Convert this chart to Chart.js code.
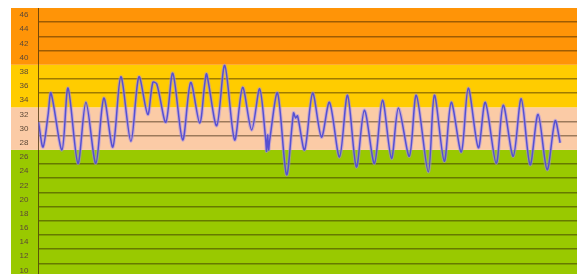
<!DOCTYPE html>
<html>
<head>
<meta charset="utf-8">
<script src="https://cdn.jsdelivr.net/npm/chart.js@4"></script>
<style>
html, body { margin: 0; padding: 0; background: #fff; }
#wrap { position: relative; width: 577px; height: 274px; }
</style>
</head>
<body>
<div id="wrap"><canvas id="temp"></canvas></div>
<script>
// time in days from the start of the month, temperature in degrees
var days = [0, 0.26, 0.55, 0.72, 1.35, 1.70, 2.27, 2.73, 3.30, 3.76, 4.28, 4.74, 5.32, 5.78,
    6.29, 6.58, 6.81, 7.33, 7.73, 8.30, 8.76, 9.28, 9.57, 9.68, 10.26, 10.72, 11.29, 11.75,
    12.27, 12.73, 13.07, 13.13, 13.19, 13.25, 13.30, 13.76, 14.28, 14.68, 14.80, 14.91,
    15.32, 15.78, 16.29, 16.75, 17.33, 17.79, 18.30, 18.76, 19.34, 19.80, 20.32, 20.72,
    21.35, 21.75, 22.44, 22.79, 23.36, 23.76, 24.34, 24.74, 25.32, 25.72, 26.35, 26.75,
    27.33, 27.79, 28.30, 28.76, 29.28, 29.74, 30.03]
var temps = [30.9, 27.4, 31.9, 35.0, 27.0, 35.7, 25.1, 33.7, 25.1, 34.3, 27.4, 37.3, 28.2, 37.3,
    32.0, 36.5, 36.3, 30.9, 37.8, 28.4, 36.5, 30.8, 36.3, 37.7, 30.4, 38.9, 28.4, 35.8,
    29.8, 35.6, 28.7, 26.8, 29.1, 27.0, 28.2, 35.0, 23.5, 32.2, 31.5, 31.8,
    27.0, 35.0, 28.8, 33.7, 26.0, 34.7, 24.6, 32.6, 25.1, 34.0, 25.8, 32.9,
    26.1, 34.7, 23.9, 34.7, 25.4, 33.7, 26.7, 35.7, 27.3, 33.7, 25.1, 33.3,
    26.1, 34.2, 24.9, 32.0, 24.2, 31.1, 28.0]
var yTicks = [10, 12, 14, 16, 18, 20, 22, 24, 26, 28, 30, 32, 34, 36, 38, 40, 42, 44, 46]
var bandLimits = [9.5, 27, 33, 39, 47]
var bandColors = ['#99c900', '#fbcba6', '#ffcc00', '#ff9407']

var points = []
for (var i = 0; i < days.length; i++) {
    points.push({ x: days[i], y: temps[i] })
}

var bands = {
    id: 'bands',
    beforeDraw: function (chart) {
        var c = chart.ctx, y = chart.scales.y, area = chart.chartArea
        c.save()
        for (var i = 0; i < bandColors.length; i++) {
            var top = Math.max(y.getPixelForValue(bandLimits[i + 1]), area.top)
            var bot = Math.min(y.getPixelForValue(bandLimits[i]), area.bottom)
            c.fillStyle = bandColors[i]
            c.fillRect(y.left, top, chart.width - y.left, bot - top)
        }
        c.restore()
    }
}

var ctx = document.getElementById('temp').getContext('2d')
var chart = new Chart(ctx, {
    type: 'line',
    data: {
        datasets: [{
            data: points,
            borderColor: '#5550d2',
            borderWidth: 1.5,
            pointRadius: 0,
            tension: 0.3,
            fill: false
        }, {
            // soft halo under the line
            data: points,
            borderColor: 'rgba(160,140,235,0.55)',
            borderWidth: 3.5,
            pointRadius: 0,
            tension: 0.3,
            fill: false
        }]
    },
    options: {
        responsive: true,
        maintainAspectRatio: false,
        animation: false,
        layout: { padding: { left: 11, top: 8, right: 0, bottom: 0 } },
        plugins: { legend: { display: false }, tooltip: { enabled: false } },
        scales: {
            x: { type: 'linear', min: 0, max: 31, display: false },
            y: {
                min: 9.5,
                max: 47,
                afterBuildTicks: function (scale) {
                    var t = []
                    for (var v = 10; v <= 46; v++) t.push({ value: v })
                    scale.ticks = t
                },
                afterFit: function (scale) {
                    scale.width = 27.5
                    scale.paddingTop = 0
                    scale.paddingBottom = 0
                },
                border: { color: 'rgba(70,45,10,0.75)', width: 1 },
                grid: {
                    drawTicks: false,
                    lineWidth: 1.5,
                    color: function (c) {
                        var v = c.tick && c.tick.value
                        if (v % 2 === 0 || bandLimits.indexOf(v) >= 0) return 'rgba(0,0,0,0)'
                        return 'rgba(40,25,0,0.45)'
                    }
                },
                ticks: {
                    autoSkip: false,
                    padding: 10,
                    color: '#5c4836',
                    font: { family: 'Liberation Sans', size: 8 },
                    callback: function (v) { return yTicks.indexOf(v) >= 0 ? String(v) : '' }
                }
            }
        }
    },
    plugins: [bands]
})
</script>
</body>
</html>
